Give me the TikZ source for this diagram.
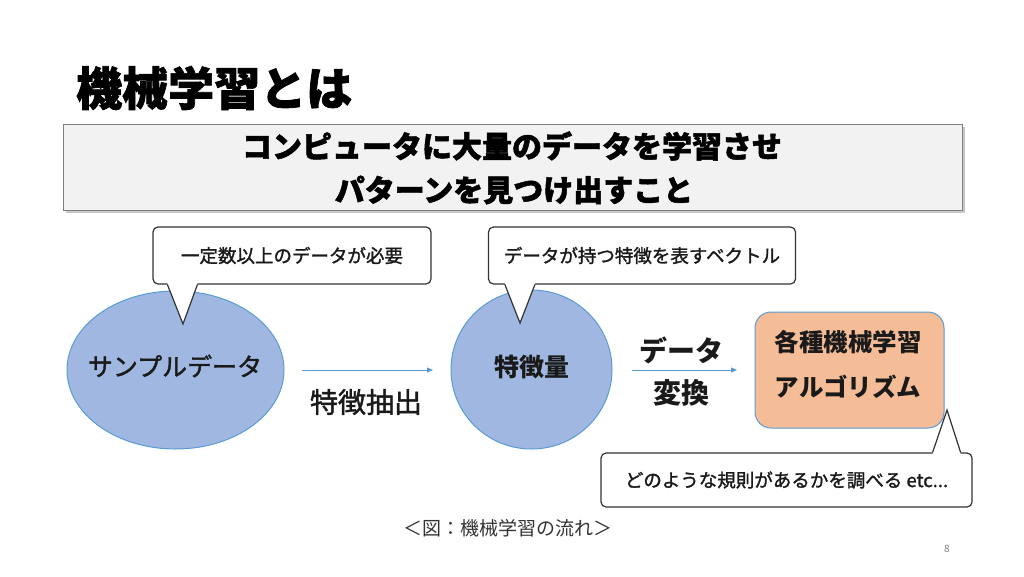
\documentclass[tikz,border=0pt]{standalone}
\usepackage{fontspec}
\setmainfont{Noto Sans CJK JP}
\newfontfamily\heavy{Noto Sans CJK JP}[BoldFeatures={FakeBold=1.6}]
\newfontfamily\semi{Noto Sans CJK JP}[FakeBold=1.5]
\usetikzlibrary{arrows.meta,calc,shapes.geometric}
\definecolor{ellfill}{HTML}{A0B8E1}
\definecolor{ellline}{HTML}{5B9BD5}
\definecolor{orfill}{HTML}{F5BD97}
\definecolor{boxfill}{HTML}{F2F2F2}
\definecolor{boxline}{HTML}{7F7F7F}
\definecolor{calline}{HTML}{333333}
\definecolor{txt}{HTML}{1A1A1A}
\definecolor{capt}{HTML}{333333}
\tikzset{
  callout/.style={draw=calline, line width=1.2pt, fill=white, rounded corners=5pt,
    inner sep=0pt, text=txt, font=\semi\fontsize{18.5}{20}\selectfont},
  pointerfill/.style={fill=white},
  pointerline/.style={draw=calline, line width=1.2pt, line join=miter},
  blob/.style={ellipse, draw=ellline, line width=1pt, fill=ellfill, inner sep=0pt, text=txt},
  flow/.style={draw=ellline, line width=1pt, -{Triangle[length=6pt,width=5pt]}},
  lbl/.style={text=txt, inner sep=0pt},
}
\begin{document}
\begin{tikzpicture}[x=1pt,y=-1pt]
\useasboundingbox[fill=white] (0,0) rectangle (1024,576);

% title
\node[lbl, anchor=west, font=\heavy\bfseries\fontsize{46}{48}\selectfont, text=black] (title) at (76,88) {機械学習とは};

% top box with shadow
\fill[black, opacity=0.22] (66,127) rectangle (965,213);
\node[draw=boxline, line width=1pt, fill=boxfill, minimum width=899pt, minimum height=86pt, inner sep=0pt] (topbox) at (512.5,167) {};
\node[lbl, font=\heavy\bfseries\fontsize{30}{32}\selectfont, text=black] (tl1) at (512,146) {コンピュータに大量のデータを学習させ};
\node[lbl, font=\heavy\bfseries\fontsize{30}{32}\selectfont, text=black] (tl2) at (514,190) {パターンを見つけ出すこと};

% ellipses
\node[blob, minimum width=217pt, minimum height=158pt] (sample) at (175.5,370) {};
\node[lbl, font=\semi\fontsize{25}{27}\selectfont] (samplet) at (175,366) {サンプルデータ};
\node[blob, minimum width=161pt, minimum height=159pt] (feat) at (531.5,369.5) {};
\node[lbl, font=\bfseries\fontsize{25}{27}\selectfont] (featt) at (532,367) {特徴量};

% orange box
\node[draw=ellline, line width=1pt, fill=orfill, rounded corners=16pt, minimum width=189pt, minimum height=116pt, inner sep=0pt] (algo) at (849.5,370) {};
\node[lbl, font=\bfseries\fontsize{24.5}{26}\selectfont] (algo1) at (848,342) {各種機械学習};
\node[lbl, font=\bfseries\fontsize{24.5}{26}\selectfont] (algo2) at (848,387) {アルゴリズム};

% arrows and labels
\coordinate (a1s) at (302,370);
\coordinate (a1e) at (433,370);
\draw[flow] (a1s) -- (a1e);
\node[lbl, font=\semi\fontsize{28}{30}\selectfont] (extract) at (366,402) {特徴抽出};
\coordinate (a2s) at (632,370);
\coordinate (a2e) at (737,370);
\draw[flow] (a2s) -- (a2e);
\node[lbl, font=\bfseries\fontsize{28}{30}\selectfont] (dtxt) at (681,350) {データ};
\node[lbl, font=\bfseries\fontsize{28}{30}\selectfont] (conv) at (681,393) {変換};

% callout 1
\node[callout, minimum width=278pt, minimum height=57pt] (c1) at (292,255.5) {一定数以上のデータが必要};
\coordinate (c1tip) at (183,324);
\fill[pointerfill] ($(c1.south west)+(15,-1.5)$) -- (c1tip) -- ($(c1.south west)+(45,-1.5)$) -- cycle;
\draw[pointerline] ($(c1.south west)+(15,0)$) -- (c1tip) -- ($(c1.south west)+(45,0)$);

% callout 2
\node[callout, minimum width=307pt, minimum height=57pt] (c2) at (642,255.5) {データが持つ特徴を表すベクトル};
\coordinate (c2tip) at (520,323);
\fill[pointerfill] ($(c2.south west)+(17,-1.5)$) -- (c2tip) -- ($(c2.south west)+(47,-1.5)$) -- cycle;
\draw[pointerline] ($(c2.south west)+(17,0)$) -- (c2tip) -- ($(c2.south west)+(47,0)$);

% callout 3
\node[callout, minimum width=371pt, minimum height=54pt] (c3) at (786.5,480) {どのような規則があるかを調べる etc...};
\coordinate (c3tip) at (947,410);
\fill[pointerfill] ($(c3.north east)+(-40,1.5)$) -- (c3tip) -- ($(c3.north east)+(-12,1.5)$) -- cycle;
\draw[pointerline] ($(c3.north east)+(-40,0)$) -- (c3tip) -- ($(c3.north east)+(-12,0)$);

% caption and page number
\node[lbl, text=capt, font=\fontsize{19}{21}\selectfont] (caption) at (508,528) {＜図：機械学習の流れ＞};
\node[lbl, text=gray, font=\fontsize{10}{12}\selectfont] (page) at (947,549) {8};
\end{tikzpicture}
\end{document}
